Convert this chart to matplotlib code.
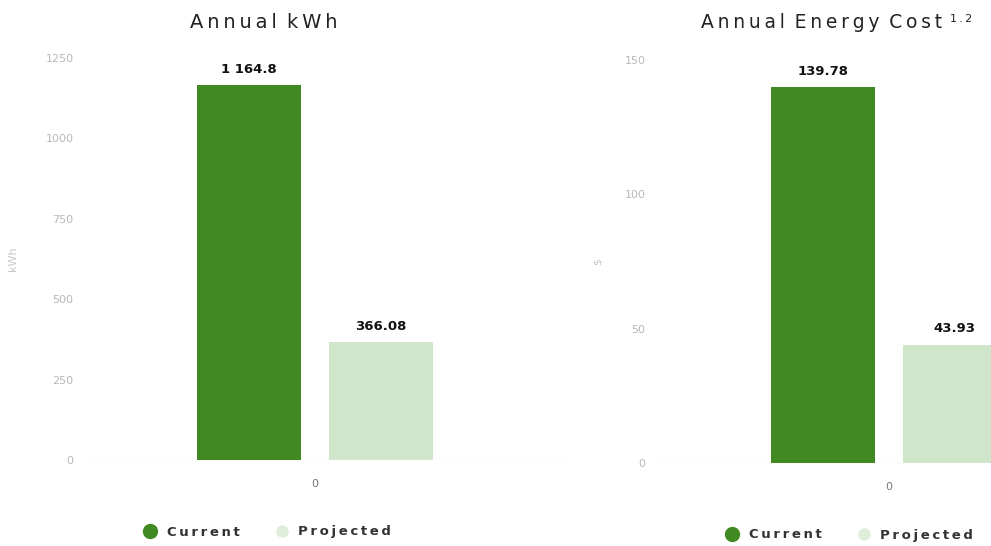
"""Two-panel bar chart: annual kWh and annual energy cost, current vs projected."""
import matplotlib

matplotlib.use("Agg")
import matplotlib.pyplot as plt
from matplotlib.lines import Line2D

W, H = 991, 546

SERIES = ["Current", "Projected"]
CATEGORIES = ["0"]
KWH = [1164.8, 366.08]
COST = [139.78, 43.93]
KWH_TICKS = [0, 250, 500, 750, 1000, 1250]
COST_TICKS = [0, 50, 100, 150]

CURRENT = "#418a22"
PROJECTED = "#cfe6cb"
TICK_GREY = "#b8b8b8"
PX_PER_UNIT = 255  # horizontal pixels per x data unit, both panels
THIN = "\u2009"


def spaced(text):
    # widen letter spacing with thin spaces
    return (" " + THIN).join(THIN.join(word) for word in text.split(" "))


def px_box(left, top, right, bottom):
    # pixel box -> figure fraction rect
    return [left / W, (H - bottom) / H, (right - left) / W, (bottom - top) / H]


def fmt_value(v):
    s = f"{v:,.2f}".rstrip("0").rstrip(".")
    return s.replace(",", " ")


def panel(fig, left, top, right, bottom, center, values, ticks, ylabel, labelpad):
    ax = fig.add_axes(px_box(left, top, right, bottom))
    offsets = [-0.258, 0.258]
    colors = [CURRENT, PROJECTED]
    for off, val, col in zip(offsets, values, colors):
        ax.bar(off, val, width=0.41, color=col, edgecolor="none", zorder=3)
        ax.annotate(fmt_value(val), (off, val), xytext=(0, 7),
                    textcoords="offset points", ha="center", va="bottom",
                    fontsize=9.5, fontweight="bold", color="#111111")
    ax.set_xlim(-(center - left) / PX_PER_UNIT, (right - center) / PX_PER_UNIT)
    ax.set_ylim(ticks[0], ticks[-1])
    ax.set_yticks(ticks)
    ax.set_yticklabels([str(t) for t in ticks])
    ax.set_xticks([0])
    ax.set_xticklabels(CATEGORIES)
    ax.tick_params(axis="y", length=0, labelsize=8, labelcolor=TICK_GREY, pad=6)
    ax.tick_params(axis="x", length=0, labelsize=8, labelcolor="#777777", pad=14)
    for s in ax.spines.values():
        s.set_visible(False)
    ax.axhline(0, color="#f0f0f0", linewidth=1, zorder=1)
    ax.set_ylabel(ylabel, color="#c8c8c8", fontsize=8, labelpad=labelpad)
    return ax


fig = plt.figure(figsize=(W / 100, H / 100), dpi=100)

ax1 = panel(fig, 82, 58, 570, 460, 315, KWH, KWH_TICKS, "kWh", 20)
ax2 = panel(fig, 654, 60, 1144, 463, 889, COST, COST_TICKS, "$", 16)

fig.text(264 / W, 1 - 22 / H, spaced("Annual kWh"), fontsize=14,
         color="#222222", ha="center", va="center")
fig.text(701 / W, 1 - 22 / H, spaced("Annual Energy Cost"),
         fontsize=13.5, color="#222222", ha="left", va="center")
fig.text(950 / W, 1 - 19 / H, spaced("1.2"), fontsize=8, color="#222222",
         ha="left", va="center")

handles = [
    Line2D([], [], marker="o", linestyle="none", markersize=10,
           markerfacecolor=CURRENT, markeredgecolor=CURRENT),
    Line2D([], [], marker="o", linestyle="none", markersize=8,
           markerfacecolor="#deeedb", markeredgecolor="#deeedb"),
]
labels = [spaced(s) for s in SERIES]
for cx, cy in [(264, 532), (846, 535)]:
    fig.legend(handles, labels, loc="center", bbox_to_anchor=(cx / W, 1 - cy / H),
               ncol=2, frameon=False, handletextpad=0.25, columnspacing=2.2,
               prop={"weight": "bold", "size": 9.5}, labelcolor="#333333")

fig.savefig("out.png", dpi=100)
